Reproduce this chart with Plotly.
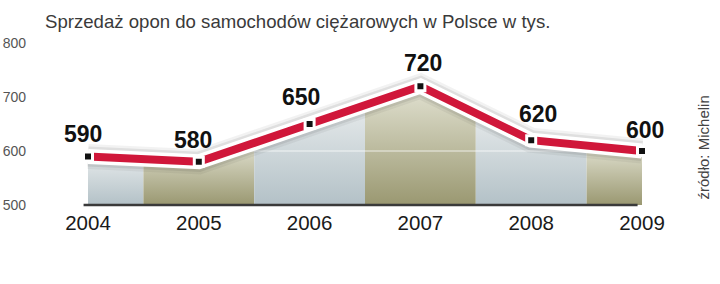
import plotly.graph_objects as go

# ---- data ----
years = ["2004", "2005", "2006", "2007", "2008", "2009"]
sales = [590, 580, 650, 720, 620, 600]
y_ticks = [500, 600, 700, 800]
title_text = "Sprzedaż opon do samochodów ciężarowych w Polsce w tys."
source_text = "źródło: Michelin"

# ---- style ----
RED = "#d0173a"
LIGHT = ["#b3c1c7", "#e6eaeb"]
OLIVE = ["#9a9871", "#e2e2d2"]
label_dx = [-5, -6, -9, 3, 7, 3]
label_dy = [22, 22, 27, 23, 26, 21]

xs = list(range(len(years)))
base = y_ticks[0]

fig = go.Figure()

# alternating filled columns under the line (boundaries at midpoints)
def line_at(x):
    i = min(int(x), len(xs) - 2)
    t = x - i
    return sales[i] + (sales[i + 1] - sales[i]) * t

for i in xs:
    a = max(i - 0.5, 0)
    b = min(i + 0.5, len(xs) - 1)
    pts_x = [a] + ([i] if a < i < b else []) + [b]
    pts_y = [line_at(v) for v in pts_x]
    poly_x = pts_x + [b, a, a]
    poly_y = pts_y + [base, base, pts_y[0]]
    cols = LIGHT if i % 2 == 0 else OLIVE
    fig.add_trace(go.Scatter(
        x=poly_x, y=poly_y, mode="lines", fill="toself",
        line=dict(width=0, color="rgba(0,0,0,0)"),
        fillgradient=dict(type="vertical",
                          colorscale=[[0, cols[0]], [1, cols[1]]],
                          start=base, stop=max(pts_y)),
        hoverinfo="skip", showlegend=False))

# faint light gridline at 600 across the filled area
fig.add_trace(go.Scatter(x=[xs[0], xs[-1]], y=[y_ticks[1], y_ticks[1]], mode="lines",
                         line=dict(color="rgba(255,255,255,0.75)", width=1.2),
                         hoverinfo="skip", showlegend=False))

# baseline
fig.add_trace(go.Scatter(x=[xs[0] - 0.04, xs[-1] - 0.04], y=[base, base], mode="lines",
                         line=dict(color="#3a3a3a", width=2.5),
                         hoverinfo="skip", showlegend=False))

# line with shadow + white outline
for w, c in [(25, "rgba(0,0,0,0.05)"), (20, "rgba(0,0,0,0.08)"), (15, "white")]:
    fig.add_trace(go.Scatter(x=xs, y=sales, mode="lines",
                             line=dict(color=c, width=w),
                             hoverinfo="skip", showlegend=False))
fig.add_trace(go.Scatter(x=xs, y=sales, mode="lines+markers",
                         line=dict(color=RED, width=8),
                         marker=dict(symbol="square", size=9, color="#111",
                                     line=dict(color="white", width=3)),
                         hoverinfo="skip", showlegend=False))

# value labels
for i, v in enumerate(sales):
    fig.add_annotation(x=xs[i], y=v, text=f"<b>{v}</b>", showarrow=False,
                       xshift=label_dx[i], yshift=label_dy[i], yanchor="middle",
                       font=dict(family="Liberation Sans", size=23, color="#111"))

# title
fig.add_annotation(xref="paper", yref="paper", x=(43 - 30) / 690, y=(208 - 22) / 178,
                   xanchor="left", yanchor="middle", showarrow=False, text=title_text,
                   font=dict(family="Liberation Sans", size=18.6, color="#3a3a3a"))
# source
fig.add_annotation(xref="paper", yref="paper", x=(703 - 30) / 690, y=0.34,
                   xanchor="center", yanchor="middle", showarrow=False, text=source_text,
                   textangle=-90,
                   font=dict(family="Liberation Sans", size=15, color="#444"))

fig.update_layout(
    width=720, height=284,
    margin=dict(l=30, r=0, t=30, b=76),
    paper_bgcolor="white", plot_bgcolor="white",
    showlegend=False,
    xaxis=dict(range=[-0.5235, 5.704], tickvals=xs, ticktext=years,
               showgrid=False, zeroline=False, showline=False, ticks="",
               ticklabelstandoff=0,
               tickfont=dict(family="Liberation Sans", size=20.5, color="#1a1a1a"),
               fixedrange=True),
    yaxis=dict(range=[494.44, 824.1], tickvals=y_ticks,
               showgrid=False, zeroline=False, showline=False, ticks="",
               ticklabelstandoff=3,
               tickfont=dict(family="Liberation Sans", size=14, color="#555"),
               fixedrange=True),
)

fig.write_html("out.html")
